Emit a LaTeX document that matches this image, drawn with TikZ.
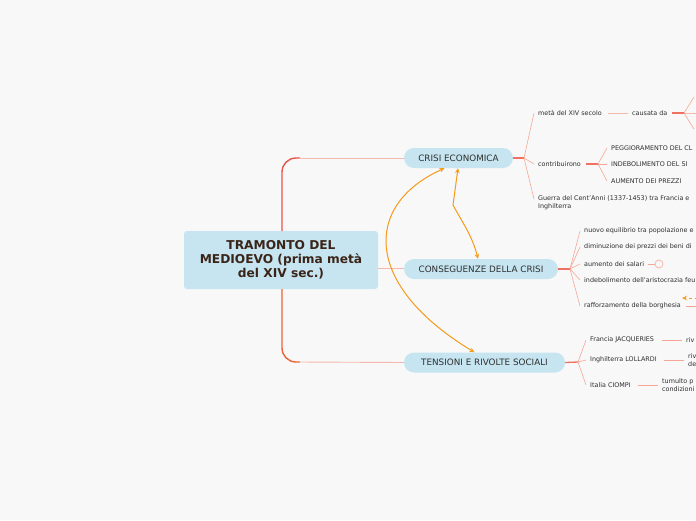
\documentclass[tikz,border=0pt]{standalone}
\usepackage{fontspec}
\setmainfont{DejaVu Sans}
\usetikzlibrary{arrows.meta}
\definecolor{bg}{HTML}{F8F8F8}
\definecolor{nodefill}{HTML}{C6E5F0}
\definecolor{trunk}{HTML}{E8554A}
\definecolor{pinkline}{HTML}{F6B8AC}
\definecolor{subline}{HTML}{F7A696}
\definecolor{redshort}{HTML}{EF6F60}
\definecolor{arrowor}{HTML}{F59A1A}
\definecolor{txt}{HTML}{2E2E2E}
\definecolor{roottxt}{HTML}{3A2418}
\tikzset{
  rootbox/.style={fill=nodefill, rounded corners=3pt, minimum width=194pt, minimum height=58pt, align=center, font=\fontsize{12.2}{14}\selectfont\bfseries, text=roottxt, inner sep=0pt},
  mainbox/.style={fill=nodefill, rounded corners=10pt, minimum height=20pt, font=\fontsize{8.8}{10}\selectfont, text=txt, inner sep=0pt},
  leaf/.style={anchor=west, font=\fontsize{6.4}{8}\selectfont, text=txt, inner sep=0pt, align=left},
  trunkline/.style={draw=trunk, line width=1.4pt},
  mainline/.style={draw=pinkline, line width=0.9pt},
  subln/.style={draw=subline, line width=0.6pt},
  shortln/.style={draw=redshort, line width=1.3pt},
  orarrow/.style={draw=arrowor, line width=1pt, {Stealth[length=5pt,width=4.5pt]}-{Stealth[length=5pt,width=4.5pt]}},
}
\begin{document}
\begin{tikzpicture}[x=1pt,y=-1pt]
\fill[bg] (0,0) rectangle (696,520);
\useasboundingbox (0,0) rectangle (696,520);
\clip (0,0) rectangle (696,520);

% root
\node[rootbox] (root) at (281,260) {TRAMONTO DEL\\MEDIOEVO (prima metà\\del XIV sec.)};

% main nodes
\node[mainbox, minimum width=109pt] (crisi) at (458.5,158) {CRISI ECONOMICA};
\node[mainbox, minimum width=154pt] (cons) at (481,269) {CONSEGUENZE DELLA CRISI};
\node[mainbox, minimum width=161pt] (tens) at (484.5,362.5) {TENSIONI E RIVOLTE SOCIALI};

% trunk
\coordinate (tt) at (282,231);
\coordinate (tb) at (282,289);
\draw[trunkline, rounded corners=14pt] (tt) -- (282,158) -- (300,158);
\draw[trunkline, draw=trunk!70!orange, rounded corners=14pt] (tb) -- (282,362) -- (300,362);
\draw[mainline] (299,158) -- (crisi.west);
\draw[mainline] (299,362) -- (tens.west);
\draw[mainline] (root.east |- 0,268) -- (cons.west |- 0,268);

% ---------- CRISI ECONOMICA branches
\coordinate (cf) at (524,158);
\draw[shortln] (crisi.east) -- (cf);
\node[leaf] (meta) at (538,113) {metà del XIV secolo};
\node[leaf] (contr) at (538,164) {contribuirono};
\node[leaf] (guerra) at (538,203) {Guerra del Cent'Anni (1337-1453) tra Francia e\\Inghilterra};
\draw[subln] (cf) -- (534,113);
\draw[subln] (cf) -- (534,164);
\draw[subln] (cf) -- (534,199);

\node[leaf] (caus) at (632,113) {causata da};
\draw[subln, draw=pinkline] (608,113) -- (628,113);
\coordinate (caf) at (684,113);
\draw[shortln] (672,113) -- (caf);
\coordinate (e1) at (694,97);
\coordinate (e2) at (698,113);
\coordinate (e3) at (694,129);
\draw[subln] (caf) -- (e1);
\draw[subln, draw=pinkline] (caf) -- (e2);
\draw[subln] (caf) -- (e3);

\coordinate (cof) at (598,164);
\draw[shortln] (586,164) -- (cof);
\node[leaf] (pegg) at (611,148) {PEGGIORAMENTO DEL CL};
\node[leaf] (indeb) at (611,164) {INDEBOLIMENTO DEL SI};
\node[leaf] (aum) at (611,181) {AUMENTO DEI PREZZI};
\draw[subln] (cof) -- (607,148);
\draw[subln] (cof) -- (607,164);
\draw[subln] (cof) -- (607,181);

% ---------- CONSEGUENZE branches
\coordinate (csf) at (570,269);
\draw[shortln] (cons.east) -- (csf);
\node[leaf] (n1) at (584,231) {nuovo equilibrio tra popolazione e};
\node[leaf] (n2) at (584,247) {diminuzione dei prezzi dei beni di};
\node[leaf] (n3) at (584,264) {aumento dei salari};
\node[leaf] (n4) at (584,280) {indebolimento dell'aristocrazia feu};
\node[leaf] (n5) at (584,306) {rafforzamento della borghesia};
\draw[subln] (csf) -- (580,231);
\draw[subln] (csf) -- (580,247);
\draw[subln] (csf) -- (580,264);
\draw[subln] (csf) -- (580,280);
\draw[subln] (csf) -- (580,306);
\node[circle, draw=subline, line width=0.6pt, minimum size=8pt, inner sep=0pt] (cnt) at (659,264) {};
\draw[subln] (648,264) -- (cnt.west);
\coordinate (bx) at (698,306);
\draw[subln] (686,306) -- (bx);
\coordinate (oa) at (698,298);
\coordinate (ob) at (682,298);
\draw[draw=arrowor, line width=1pt, dashed, -{Stealth[length=5pt,width=4.5pt]}] (oa) -- (ob);

% ---------- TENSIONI branches
\coordinate (tf) at (578,362);
\draw[shortln] (tens.east) -- (tf);
\node[leaf] (fr) at (590,340) {Francia JACQUERIES};
\node[leaf] (ing) at (590,360) {Inghilterra LOLLARDI};
\node[leaf] (it) at (590,385) {Italia CIOMPI};
\draw[subln] (tf) -- (586,340);
\draw[subln] (tf) -- (586,360);
\draw[subln] (tf) -- (586,385);
\node[leaf] (fr2) at (686,340) {riv};
\node[leaf] (ing2) at (688,360) {riv\\de};
\node[leaf] (it2) at (662,385) {tumulto p\\condizioni};
\draw[subln] (662,340) -- (682,340);
\draw[subln] (664,360) -- (684,360);
\draw[subln] (638,385) -- (658,385);

% ---------- orange relations
\coordinate (k1) at (453,205);
\draw[orarrow] ([xshift=-0.5pt]crisi.south) -- (k1) .. controls (462,222) and (472,235) .. ([xshift=-3pt]cons.north);
\draw[orarrow] ([xshift=-14pt]crisi.south) .. controls (363,205) and (363,285) .. ([xshift=-10pt]tens.north);
\end{tikzpicture}
\end{document}
